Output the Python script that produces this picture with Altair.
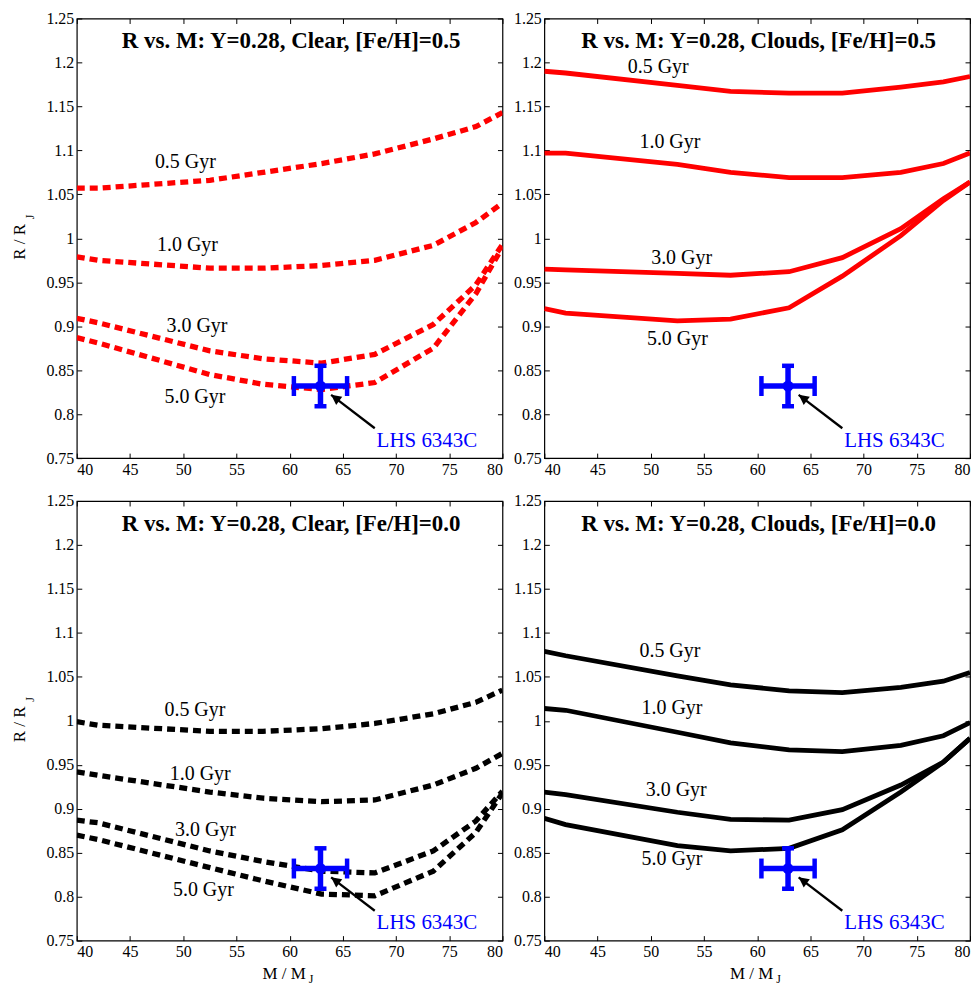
import altair as alt
import pandas as pd

# ---------------- data ----------------
masses = [40, 42, 52.5, 57.5, 63, 68, 73.5, 77.5, 80]
ages = ["0.5 Gyr", "1.0 Gyr", "3.0 Gyr", "5.0 Gyr"]

clear_fe05 = [
    [1.057, 1.057, 1.066, 1.075, 1.085, 1.096, 1.113, 1.127, 1.143],
    [0.979, 0.975, 0.966, 0.966, 0.969, 0.975, 0.992, 1.018, 1.040],
    [0.909, 0.904, 0.872, 0.863, 0.858, 0.868, 0.902, 0.947, 0.993],
    [0.887, 0.881, 0.845, 0.834, 0.828, 0.836, 0.875, 0.937, 0.990],
]
clouds_fe05 = [
    [1.190, 1.188, 1.174, 1.167, 1.165, 1.165, 1.172, 1.178, 1.184],
    [1.097, 1.097, 1.084, 1.075, 1.069, 1.069, 1.075, 1.085, 1.097],
    [0.965, 0.964, 0.960, 0.958, 0.962, 0.978, 1.011, 1.045, 1.064],
    [0.920, 0.915, 0.906, 0.908, 0.921, 0.957, 1.003, 1.043, 1.064],
]
clear_fe00 = [
    [0.999, 0.995, 0.988, 0.988, 0.991, 0.997, 1.008, 1.021, 1.035],
    [0.942, 0.938, 0.919, 0.912, 0.908, 0.910, 0.927, 0.946, 0.963],
    [0.887, 0.884, 0.852, 0.840, 0.829, 0.827, 0.852, 0.886, 0.920],
    [0.870, 0.865, 0.833, 0.818, 0.803, 0.801, 0.829, 0.873, 0.918],
]
clouds_fe00 = [
    [1.079, 1.074, 1.051, 1.041, 1.034, 1.032, 1.038, 1.045, 1.055],
    [1.014, 1.012, 0.987, 0.975, 0.967, 0.965, 0.972, 0.983, 0.998],
    [0.919, 0.916, 0.896, 0.888, 0.887, 0.899, 0.927, 0.953, 0.980],
    [0.889, 0.882, 0.858, 0.852, 0.855, 0.876, 0.919, 0.953, 0.980],
]

panel_titles = [
    "R vs. M: Y=0.28, Clear, [Fe/H]=0.5",
    "R vs. M: Y=0.28, Clouds, [Fe/H]=0.5",
    "R vs. M: Y=0.28, Clear, [Fe/H]=0.0",
    "R vs. M: Y=0.28, Clouds, [Fe/H]=0.0",
]
label_x = [
    [50.2, 50.4, 51.3, 51.1],
    [50.7, 51.8, 52.9, 52.5],
    [51.1, 51.6, 52.1, 51.9],
    [51.8, 52.0, 52.4, 52.0],
]
label_y = [
    [1.087, 0.992, 0.900, 0.820],
    [1.195, 1.110, 0.978, 0.885],
    [1.012, 0.940, 0.876, 0.808],
    [1.079, 1.014, 0.921, 0.843],
]

obj_name = "LHS 6343C"
obj_mass = 62.9
obj_mass_err = 2.5
obj_radius = 0.832
obj_radius_err = 0.023
arrow_tail = [68.0, 0.784]
arrow_tip = [63.9, 0.822]
name_pos = [72.9, 0.770]

x_ticks = [40, 45, 50, 55, 60, 65, 70, 75, 80]
y_ticks = [0.75, 0.8, 0.85, 0.9, 0.95, 1.0, 1.05, 1.1, 1.15, 1.2, 1.25]

# ---------------- styling ----------------
W, H = 427, 441
SERIF = "Liberation Serif"
RED, BLACK, BLUE = "#ff0000", "#000000", "#0000ff"
XS = alt.Scale(domain=[40, 80], nice=False, zero=False)
YS = alt.Scale(domain=[0.75, 1.25], nice=False, zero=False)

axis_common = dict(domain=False, grid=False, ticks=True, tickSize=5, offset=-5,
                   tickColor=BLACK, tickWidth=1, title=None,
                   labelFont=SERIF, labelFontSize=16, labelColor=BLACK)


def make_panel(idx, radii, color, dashed, show_ytitle, show_xtitle):
    rows = []
    for age, rr in zip(ages, radii):
        for m, r in zip(masses, rr):
            rows.append({"age": age, "mass": m, "radius": r})
    curves = pd.DataFrame(rows)

    line_kw = dict(color=color, strokeWidth=5.3 if dashed else 4.8, clip=True)
    if dashed:
        line_kw["strokeDash"] = [8, 5]
        line_kw["strokeCap"] = "butt"
    lines = alt.Chart(curves).mark_line(**line_kw).encode(
        x=alt.X("mass:Q", scale=XS,
                axis=alt.Axis(orient="bottom", values=x_ticks, format="d",
                              labelPadding=3, **axis_common)),
        y=alt.Y("radius:Q", scale=YS,
                axis=alt.Axis(orient="left", values=y_ticks, format=".2~f",
                              labelPadding=3, **axis_common)),
        detail="age:N",
        order="mass:Q",
    )

    labs = pd.DataFrame({"age": ages, "lx": label_x[idx], "ly": label_y[idx]})
    age_text = alt.Chart(labs).mark_text(
        font=SERIF, fontSize=20, color=BLACK, baseline="middle", align="center"
    ).encode(
        x=alt.X("lx:Q", scale=XS, axis=None),
        y=alt.Y("ly:Q", scale=YS, axis=None),
        text="age:N",
    )

    obj = pd.DataFrame({
        "m": [obj_mass], "r": [obj_radius],
        "mlo": [obj_mass - obj_mass_err], "mhi": [obj_mass + obj_mass_err],
        "rlo": [obj_radius - obj_radius_err], "rhi": [obj_radius + obj_radius_err],
        "tx": [arrow_tail[0]], "ty": [arrow_tail[1]],
        "hx": [arrow_tip[0]], "hy": [arrow_tip[1]],
        "nx": [name_pos[0]], "ny": [name_pos[1]], "name": [obj_name],
    })
    base = alt.Chart(obj)
    hbar = base.mark_rule(color=BLUE, strokeWidth=5.5).encode(
        x=alt.X("mlo:Q", scale=XS, axis=None), x2="mhi:Q",
        y=alt.Y("r:Q", scale=YS, axis=None))
    vbar = base.mark_rule(color=BLUE, strokeWidth=5.5).encode(
        x=alt.X("m:Q", scale=XS, axis=None),
        y=alt.Y("rlo:Q", scale=YS, axis=None), y2="rhi:Q")
    xcap_lo = base.mark_tick(color=BLUE, orient="vertical", size=20, thickness=4.5, opacity=1).encode(
        x=alt.X("mlo:Q", scale=XS, axis=None), y=alt.Y("r:Q", scale=YS, axis=None))
    xcap_hi = base.mark_tick(color=BLUE, orient="vertical", size=20, thickness=4.5, opacity=1).encode(
        x=alt.X("mhi:Q", scale=XS, axis=None), y=alt.Y("r:Q", scale=YS, axis=None))
    ycap_lo = base.mark_tick(color=BLUE, orient="horizontal", size=12, thickness=4.5, opacity=1).encode(
        x=alt.X("m:Q", scale=XS, axis=None), y=alt.Y("rlo:Q", scale=YS, axis=None))
    ycap_hi = base.mark_tick(color=BLUE, orient="horizontal", size=12, thickness=4.5, opacity=1).encode(
        x=alt.X("m:Q", scale=XS, axis=None), y=alt.Y("rhi:Q", scale=YS, axis=None))
    # the point layer carries the mirrored (top / right) tick axes
    point = base.mark_circle(color=BLUE, size=120, opacity=1).encode(
        x=alt.X("m:Q", scale=XS,
                axis=alt.Axis(orient="top", values=x_ticks, labels=False, **axis_common)),
        y=alt.Y("r:Q", scale=YS,
                axis=alt.Axis(orient="right", values=y_ticks, labels=False, **axis_common)))
    arrow_line = base.mark_rule(color=BLACK, strokeWidth=2.3).encode(
        x=alt.X("tx:Q", scale=XS, axis=None), y=alt.Y("ty:Q", scale=YS, axis=None),
        x2="hx:Q", y2="hy:Q")
    arrow_head = base.mark_point(
        shape="M0,0 L-0.55,1.1 L0.55,1.1 Z", filled=True, color=BLACK,
        size=340, angle=307, opacity=1
    ).encode(x=alt.X("hx:Q", scale=XS, axis=None), y=alt.Y("hy:Q", scale=YS, axis=None))
    name_text = base.mark_text(font=SERIF, fontSize=21, color=BLUE,
                               align="center", baseline="middle").encode(
        x=alt.X("nx:Q", scale=XS, axis=None), y=alt.Y("ny:Q", scale=YS, axis=None),
        text="name:N")

    title_text = alt.Chart(pd.DataFrame({"t": [panel_titles[idx]]})).mark_text(
        font=SERIF, fontSize=23, fontWeight="bold", color=BLACK,
        align="center", baseline="alphabetic"
    ).encode(x=alt.value(W / 2 + 1.5), y=alt.value(30), text="t:N")

    layers = [lines, age_text, hbar, vbar, xcap_lo, xcap_hi, ycap_lo, ycap_hi,
              arrow_line, arrow_head, point, name_text, title_text]

    if show_ytitle:
        layers.append(alt.Chart(pd.DataFrame({"t": ["R / R"]})).mark_text(
            font=SERIF, fontSize=17, color=BLACK, angle=270,
            align="center", baseline="middle"
        ).encode(x=alt.value(-57), y=alt.value(224), text="t:N"))
        layers.append(alt.Chart(pd.DataFrame({"t": ["J"]})).mark_text(
            font=SERIF, fontSize=12, color=BLACK, angle=270,
            align="center", baseline="middle"
        ).encode(x=alt.value(-47), y=alt.value(199), text="t:N"))
    if show_xtitle:
        layers.append(alt.Chart(pd.DataFrame({"t": ["M / M"]})).mark_text(
            font=SERIF, fontSize=17, color=BLACK,
            align="center", baseline="middle"
        ).encode(x=alt.value(208), y=alt.value(H + 33), text="t:N"))
        layers.append(alt.Chart(pd.DataFrame({"t": ["J"]})).mark_text(
            font=SERIF, fontSize=12, color=BLACK,
            align="center", baseline="middle"
        ).encode(x=alt.value(235), y=alt.value(H + 39), text="t:N"))

    return alt.layer(*layers).resolve_axis(x="independent", y="independent").properties(
        width=W, height=H)


tl = make_panel(0, clear_fe05, RED, True, True, False)
tr = make_panel(1, clouds_fe05, RED, False, False, False)
bl = make_panel(2, clear_fe00, BLACK, True, True, True)
br = make_panel(3, clouds_fe00, BLACK, False, False, True)

chart = alt.concat(
    tl, tr, bl, br, columns=2, spacing={"row": 43, "column": 42}, bounds="flush"
).properties(
    padding={"left": 2, "top": 0, "right": 0, "bottom": 0},
    background="white",
).configure_view(
    stroke=BLACK, strokeWidth=1.2
).configure_axis(
    labelFont=SERIF, labelFontSize=16, labelColor=BLACK
)

chart.save("out.html", embed_options={"renderer": "svg", "actions": False})
